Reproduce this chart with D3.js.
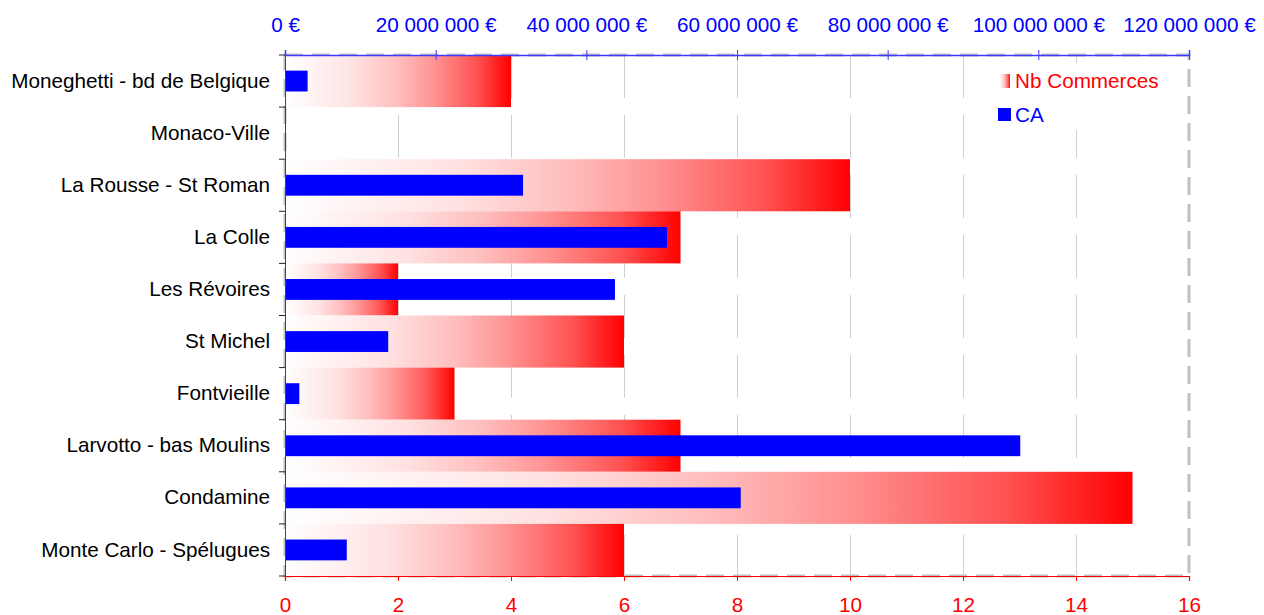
<!DOCTYPE html>
<html>
<head>
<meta charset="utf-8">
<script src="https://cdn.jsdelivr.net/npm/d3@7"></script>
<style>
  html, body { margin: 0; padding: 0; background: #fff; }
  svg { display: block; font-family: "Liberation Sans", Arial, sans-serif; }
</style>
</head>
<body>
<svg id="chart" width="1264" height="615"></svg>
<script>
const categories = [
  "Moneghetti - bd de Belgique",
  "Monaco-Ville",
  "La Rousse - St Roman",
  "La Colle",
  "Les Révoires",
  "St Michel",
  "Fontvieille",
  "Larvotto - bas Moulins",
  "Condamine",
  "Monte Carlo - Spélugues"
];
const nbCommerces = [4, 0, 10, 7, 2, 6, 3, 7, 15, 6];
const caValues = [3000000, 0, 31600000, 50700000, 43800000, 13700000, 1900000, 97600000, 60500000, 8200000];
const countTicks = [0, 2, 4, 6, 8, 10, 12, 14, 16];
const caTicks = [0, 20000000, 40000000, 60000000, 80000000, 100000000, 120000000];
const legendLabels = ["Nb Commerces", "CA"];

(function () {
const FS = 20.7;
const FF = "Liberation Sans, Arial, sans-serif";
const svg = d3.select("#chart");
const pL = 285, pR = 1189, pT = 55, pB = 576;

const y = d3.scaleBand().domain(categories).range([pT, pB]).paddingInner(0).paddingOuter(0);
const xCount = d3.scaleLinear().domain([0, 16]).range([pL, pR]);
const xCA = d3.scaleLinear().domain([0, 120000000]).range([pL, pR]);

const defs = svg.append("defs");
const grad = defs.append("linearGradient").attr("id", "redgrad")
  .attr("x1", "0%").attr("x2", "100%").attr("y1", "0%").attr("y2", "0%");
[[0, "#ffffff"], [0.3, "#ffe2e2"], [0.5, "#ffbdbd"], [0.65, "#ff9595"], [0.85, "#ff5252"], [1, "#ff0000"]]
  .forEach(([o, c]) => grad.append("stop").attr("offset", o).attr("stop-color", c));

// gridlines
svg.append("g").selectAll("line").data(countTicks.filter(d => d > 0 && d < 16)).join("line")
  .attr("x1", d => xCount(d) + 0.5).attr("x2", d => xCount(d) + 0.5)
  .attr("y1", pT).attr("y2", pB)
  .attr("stroke", "#cfcfcf").attr("stroke-width", 1)
  .attr("stroke-dasharray", "43,17");

// plot border dashed gray
svg.append("rect").attr("x", pL).attr("y", pT).attr("width", pR - pL).attr("height", pB - pT)
  .attr("fill", "none").attr("stroke", "#c0c0c0").attr("stroke-width", 3)
  .attr("stroke-dasharray", "18,9");

// red bars
svg.append("g").selectAll("rect").data(categories).join("rect")
  .attr("x", pL)
  .attr("y", d => y(d))
  .attr("width", (d, i) => xCount(nbCommerces[i]) - pL)
  .attr("height", y.bandwidth())
  .attr("fill", "url(#redgrad)");

// blue bars
const bh = y.bandwidth() * 0.4;
svg.append("g").selectAll("rect").data(categories).join("rect")
  .attr("x", pL)
  .attr("y", d => y(d) + (y.bandwidth() - bh) / 2)
  .attr("width", (d, i) => xCA(caValues[i]) - pL)
  .attr("height", bh)
  .attr("fill", "#0000ff");

// left axis
const yAxis = svg.append("g").attr("transform", `translate(${pL},0)`)
  .call(d3.axisLeft(y).tickSize(0).tickPadding(15));
yAxis.select(".domain").attr("stroke", "#444");
yAxis.selectAll("text").attr("font-size", FS).attr("fill", "#000").attr("font-family", FF);
yAxis.selectAll(".bticks").data(d3.range(categories.length + 1)).join("line")
  .attr("class", "bticks")
  .attr("x1", -6).attr("x2", 0)
  .attr("y1", i => pT + i * y.step()).attr("y2", i => pT + i * y.step())
  .attr("stroke", "#222");

// top axis
const topAxis = svg.append("g").attr("transform", `translate(0,${pT})`)
  .call(d3.axisTop(xCA).tickValues(caTicks).tickSize(5).tickPadding(18)
    .tickFormat(d => d3.format(",")(d).replace(/,/g, " ") + " €"));
topAxis.select(".domain").attr("stroke", "#3a3aff").attr("stroke-width", 1.5);
topAxis.selectAll(".tick line").attr("stroke", "#3a3aff").attr("y2", 5).attr("y1", -5);
topAxis.selectAll("text").attr("font-size", FS).attr("fill", "#0000ff").attr("font-family", FF);

// bottom axis
const botAxis = svg.append("g").attr("transform", `translate(0,${pB})`)
  .call(d3.axisBottom(xCount).tickValues(countTicks).tickSize(5).tickPadding(16).tickFormat(d3.format("d")));
botAxis.select(".domain").attr("stroke", "#ff0000").attr("stroke-width", 1.2);
botAxis.selectAll(".tick line").attr("stroke", "#ff0000");
botAxis.selectAll("text").attr("font-size", FS).attr("fill", "#ff0000").attr("font-family", FF);

// legend
const lg = svg.append("g");
lg.append("rect").attr("x", 992).attr("y", 63).attr("width", 180).attr("height", 67).attr("fill", "#fff");
lg.append("rect").attr("x", 999).attr("y", 74).attr("width", 11).attr("height", 14).attr("fill", "url(#redgrad)");
lg.append("text").attr("x", 1015).attr("y", 81).attr("dy", "0.35em").attr("font-size", FS)
  .attr("font-family", FF).attr("fill", "#ff0000").text(legendLabels[0]);
lg.append("rect").attr("x", 998).attr("y", 108).attr("width", 13).attr("height", 13).attr("fill", "#0000ff");
lg.append("text").attr("x", 1015).attr("y", 115).attr("dy", "0.35em").attr("font-size", FS)
  .attr("font-family", FF).attr("fill", "#0000ff").text(legendLabels[1]);
})();
</script>
</body>
</html>
